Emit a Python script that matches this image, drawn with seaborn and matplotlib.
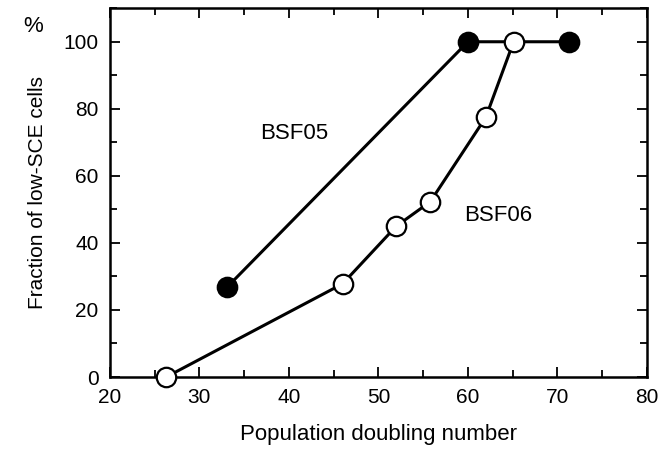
import matplotlib
matplotlib.use('Agg')
import matplotlib.pyplot as plt
from matplotlib.ticker import MultipleLocator
import seaborn as sns

# BSF05 (filled) and BSF06 (open) series
bsf05_pd = [33.1, 60.0, 71.3]
bsf05_frac = [26.8, 100, 100]
bsf06_pd = [26.3, 46.0, 52.0, 55.8, 62.0, 65.1]
bsf06_frac = [0, 27.8, 45.0, 52.3, 77.5, 100]

sns.set_style('ticks')
plt.rcParams['font.family'] = ['Liberation Sans', 'DejaVu Sans']
plt.rcParams['text.color'] = 'black'
plt.rcParams['axes.labelcolor'] = 'black'
plt.rcParams['xtick.color'] = 'black'
plt.rcParams['ytick.color'] = 'black'
plt.rcParams['axes.edgecolor'] = 'black'

fig = plt.figure(figsize=(6.65, 4.57), dpi=100)
ax = fig.add_axes([0.165, 0.175, 0.808, 0.807])

line_kw = dict(color='black', linewidth=2.2, marker='o', markersize=14,
               markeredgewidth=1.6, markeredgecolor='black', clip_on=False)
sns.lineplot(x=bsf05_pd, y=bsf05_frac, ax=ax, markerfacecolor='black', zorder=3, **line_kw)
sns.lineplot(x=bsf06_pd, y=bsf06_frac, ax=ax, markerfacecolor='white', zorder=4, **line_kw)

ax.set_xlim(20, 80)
ax.set_ylim(0, 110)
ax.xaxis.set_major_locator(MultipleLocator(10))
ax.xaxis.set_minor_locator(MultipleLocator(5))
ax.yaxis.set_major_locator(MultipleLocator(20))
ax.yaxis.set_minor_locator(MultipleLocator(10))
ax.tick_params(which='both', direction='in', top=True, right=True, labelsize=15, pad=8)
ax.tick_params(which='major', length=7, width=1.3)
ax.tick_params(which='minor', length=5, width=1.3)
for s in ax.spines.values():
    s.set_linewidth(1.8)

ax.set_xlabel('Population doubling number', fontsize=16, labelpad=12)
ax.set_ylabel('Fraction of low-SCE cells', fontsize=15, labelpad=12)

ax.text(36.8, 71, 'BSF05', fontsize=16)
ax.text(59.6, 46.5, 'BSF06', fontsize=16)
fig.text(0.035, 0.93, '%', fontsize=16)

fig.savefig('out.png', dpi=100)
